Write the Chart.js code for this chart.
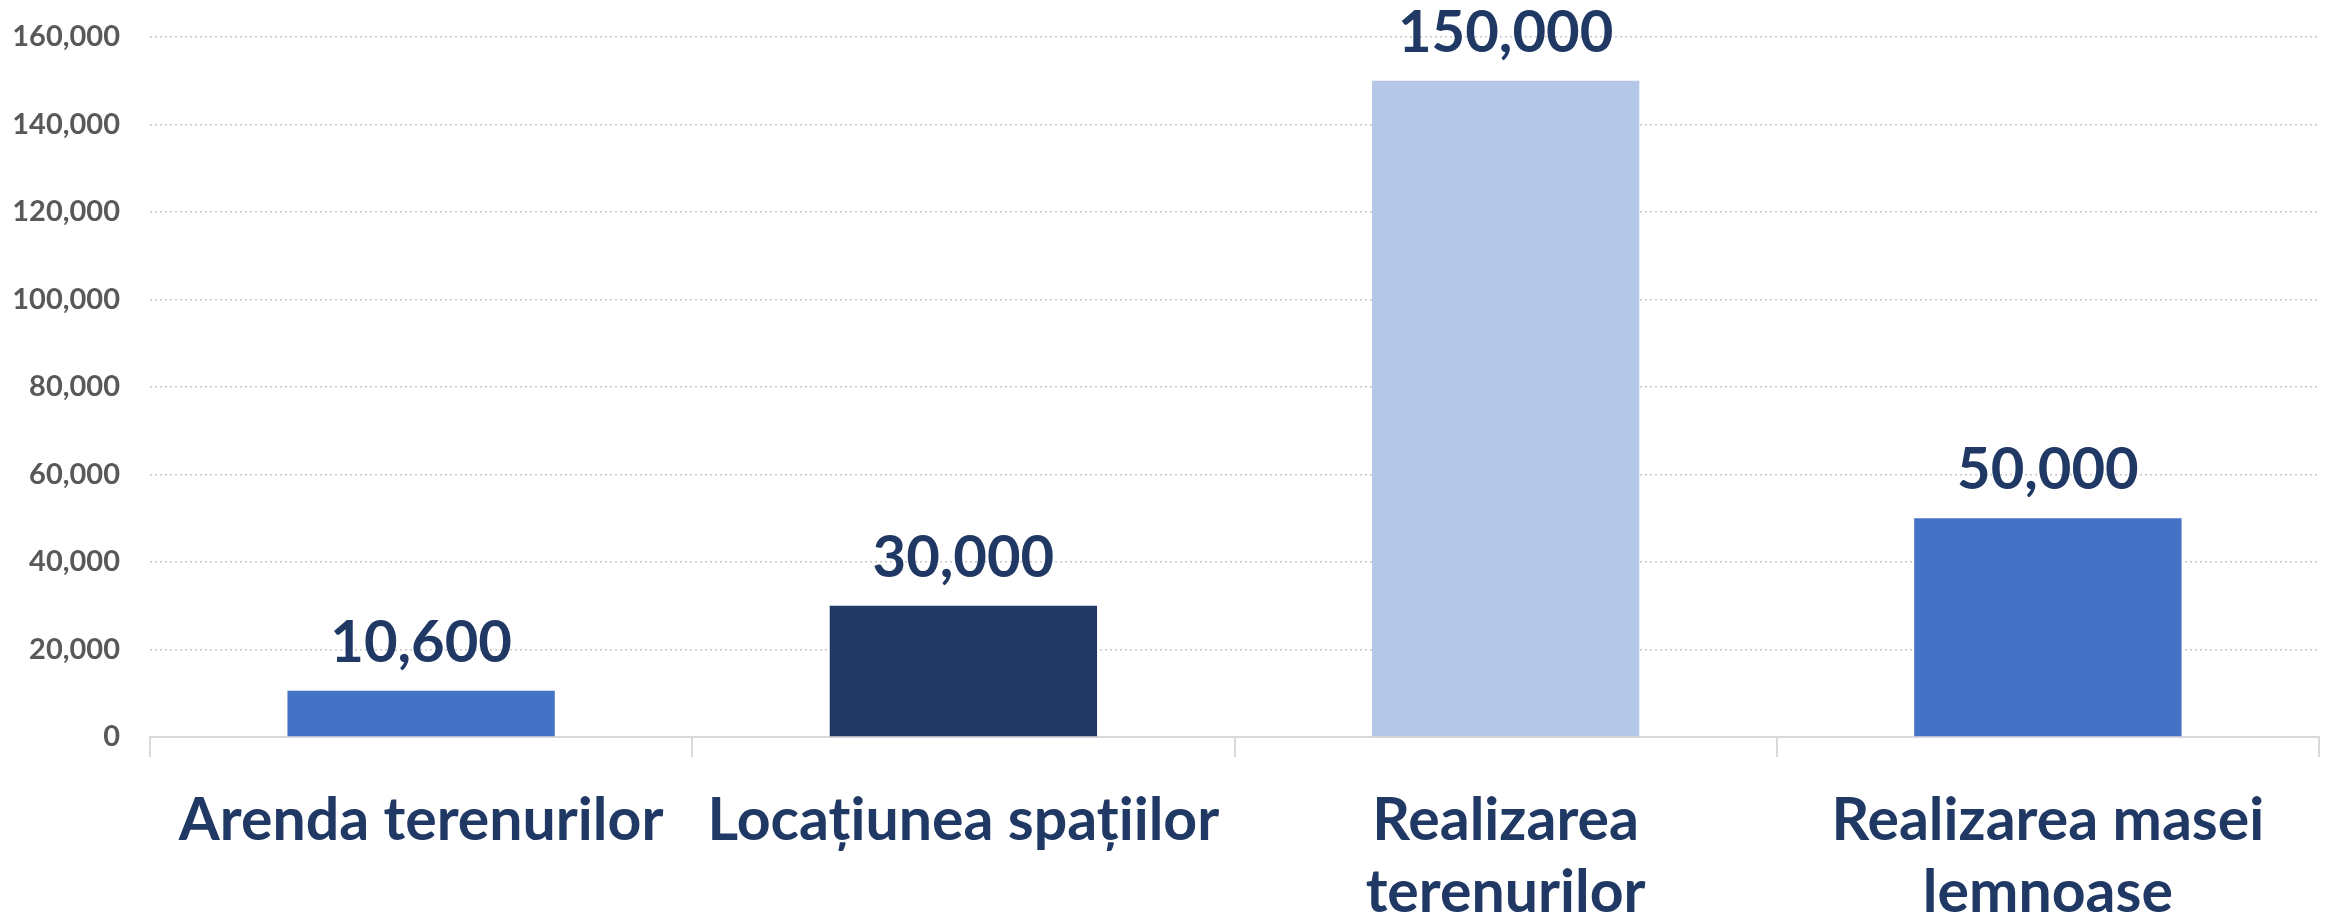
<!DOCTYPE html>
<html>
<head>
<meta charset="utf-8">
<script src="https://cdn.jsdelivr.net/npm/chart.js@4/dist/chart.umd.min.js"></script>
<style>
html,body{margin:0;padding:0;background:#fff;}
#wrap{width:2328px;height:921px;}
</style>
</head>
<body>
<div id="wrap"><canvas id="c" width="2328" height="921"></canvas></div>
<script>
const categories = ["Arenda terenurilor", "Locațiunea spațiilor", ["Realizarea", "terenurilor"], ["Realizarea masei", "lemnoase"]];
const values = [10600, 30000, 150000, 50000];
const barColors = ["#4472C4", "#203864", "#B4C7E7", "#4472C4"];
const yMin = 0, yMax = 160000, yStep = 20000;

const fmt = v => v.toLocaleString('en-US');

const labelPlugin = {
  id: 'barLabels',
  afterDatasetsDraw(chart) {
    const ctx = chart.ctx;
    const meta = chart.getDatasetMeta(0);
    ctx.save();
    ctx.font = 'bold 58px Lato';
    ctx.fillStyle = '#203864';
    ctx.textAlign = 'center';
    ctx.textBaseline = 'alphabetic';
    meta.data.forEach((el, i) => {
      ctx.fillText(fmt(values[i]), el.x, el.y - 29);
    });
    ctx.restore();
  }
};

new Chart(document.getElementById('c'), {
  type: 'bar',
  data: {
    labels: categories,
    datasets: [{
      data: values,
      backgroundColor: barColors,
      borderWidth: 0,
      barPercentage: 0.493,
      categoryPercentage: 1.0
    }]
  },
  options: {
    responsive: false,
    animation: false,
    devicePixelRatio: 1,
    layout: { padding: { top: 37, right: 9, left: 0, bottom: 0 } },
    plugins: { legend: { display: false }, tooltip: { enabled: false } },
    scales: {
      x: {
        offset: true,
        grid: { display: true, drawOnChartArea: false, drawTicks: true, tickLength: 20, color: '#d9d9d9', lineWidth: 2, offset: true },
        border: { display: true, color: '#d9d9d9', width: 2 },
        ticks: {
          color: '#203864',
          font: { family: 'Lato', weight: 'bold', size: 59, lineHeight: 1.22 },
          maxRotation: 0, minRotation: 0, autoSkip: false, padding: 28
        },
        afterFit: s => { s.height = 184; s.paddingLeft = 0; s.paddingRight = 0; }
      },
      y: {
        min: yMin, max: yMax,
        grid: { color: '#c8c8c8', lineWidth: 1.5, drawTicks: false },
        border: { display: false, dash: [2, 3] },
        ticks: {
          stepSize: yStep,
          color: '#595959',
          font: { family: 'Lato', weight: 'bold', size: 29 },
          padding: 30,
          callback: v => fmt(v)
        },
        afterFit: s => { s.width = 150; s.paddingTop = 0; s.paddingBottom = 0; }
      }
    }
  },
  plugins: [labelPlugin]
});
</script>
</body>
</html>
